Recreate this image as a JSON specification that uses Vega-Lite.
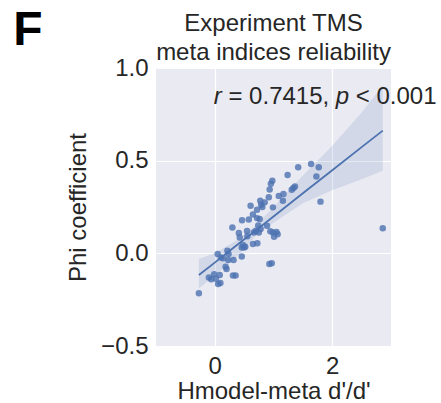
{
  "$schema": "https://vega.github.io/schema/vega-lite/v6.json",
  "autosize": "none",
  "padding": {"left": 156, "top": 68, "right": 50, "bottom": 57},
  "width": 235,
  "height": 278,
  "background": "white",
  "config": {
    "font": "Liberation Sans",
    "view": {"fill": "#EAEAF2", "stroke": null},
    "axis": {
      "domain": false, "ticks": false, "grid": true, "gridColor": "white", "gridWidth": 1.2,
      "labelFontSize": 24, "titleFontSize": 24, "labelColor": "#262626", "titleColor": "#262626",
      "titleFontWeight": "normal", "labelFont": "Liberation Sans", "titleFont": "Liberation Sans"
    }
  },
  "title": {
    "text": ["Experiment TMS", "meta indices reliability"],
    "fontSize": 24, "fontWeight": "normal", "color": "#262626", "lineHeight": 29,
    "anchor": "middle", "offset": 6, "dy": 64, "font": "Liberation Sans"
  },
  "datasets": {
    "pts": [
      {"x": -0.27, "y": -0.215}, {"x": -0.10, "y": -0.13}, {"x": -0.06, "y": -0.14}, {"x": -0.01, "y": -0.113},
      {"x": 0.02, "y": -0.137}, {"x": 0.057, "y": -0.165}, {"x": 0.096, "y": -0.16}, {"x": 0.085, "y": -0.117},
      {"x": 0.05, "y": -0.004}, {"x": 0.105, "y": -0.022}, {"x": 0.14, "y": -0.027}, {"x": 0.215, "y": 0.014},
      {"x": 0.235, "y": -0.004}, {"x": 0.23, "y": -0.036}, {"x": 0.20, "y": -0.085}, {"x": 0.185, "y": -0.072},
      {"x": 0.32, "y": -0.036}, {"x": 0.31, "y": -0.12}, {"x": 0.355, "y": -0.12},
      {"x": 0.30, "y": 0.14}, {"x": 0.41, "y": 0.11}, {"x": 0.425, "y": 0.085}, {"x": 0.465, "y": 0.178},
      {"x": 0.46, "y": 0.032}, {"x": 0.46, "y": -0.017}, {"x": 0.48, "y": 0.045}, {"x": 0.50, "y": 0.032},
      {"x": 0.52, "y": 0.035}, {"x": 0.55, "y": 0.12}, {"x": 0.555, "y": 0.092}, {"x": 0.58, "y": 0.182},
      {"x": 0.61, "y": 0.257}, {"x": 0.65, "y": 0.209}, {"x": 0.65, "y": 0.05}, {"x": 0.665, "y": 0.113},
      {"x": 0.70, "y": 0.12}, {"x": 0.725, "y": 0.054}, {"x": 0.72, "y": 0.19}, {"x": 0.72, "y": 0.235},
      {"x": 0.75, "y": 0.113}, {"x": 0.78, "y": 0.131}, {"x": 0.74, "y": 0.15}, {"x": 0.765, "y": 0.185},
      {"x": 0.775, "y": 0.284}, {"x": 0.79, "y": 0.262}, {"x": 0.81, "y": 0.25}, {"x": 0.85, "y": 0.275},
      {"x": 0.89, "y": 0.149}, {"x": 0.92, "y": 0.302}, {"x": 0.935, "y": 0.345}, {"x": 0.955, "y": 0.375},
      {"x": 0.98, "y": 0.392}, {"x": 0.99, "y": 0.248}, {"x": 0.946, "y": 0.119}, {"x": 0.99, "y": 0.113},
      {"x": 1.01, "y": 0.09}, {"x": 1.05, "y": 0.115}, {"x": 1.07, "y": 0.103}, {"x": 0.93, "y": -0.058},
      {"x": 0.97, "y": -0.054}, {"x": 1.09, "y": 0.31}, {"x": 1.16, "y": 0.284}, {"x": 1.17, "y": 0.32},
      {"x": 1.24, "y": 0.423}, {"x": 1.31, "y": 0.343}, {"x": 1.34, "y": 0.352}, {"x": 1.365, "y": 0.36},
      {"x": 1.42, "y": 0.464}, {"x": 1.64, "y": 0.482}, {"x": 1.77, "y": 0.464}, {"x": 1.73, "y": 0.414},
      {"x": 1.80, "y": 0.279}, {"x": 2.86, "y": 0.135}
    ],
    "fit": [
      {"x": -0.27, "fit": -0.117, "lo": -0.19, "hi": -0.03},
      {"x": 0.0, "fit": -0.05, "lo": -0.12, "hi": 0.0},
      {"x": 0.4, "fit": 0.05, "lo": -0.01, "hi": 0.075},
      {"x": 0.7, "fit": 0.124, "lo": 0.095, "hi": 0.15},
      {"x": 1.0, "fit": 0.199, "lo": 0.165, "hi": 0.25},
      {"x": 1.5, "fit": 0.324, "lo": 0.27, "hi": 0.42},
      {"x": 2.0, "fit": 0.448, "lo": 0.34, "hi": 0.58},
      {"x": 2.5, "fit": 0.573, "lo": 0.40, "hi": 0.76},
      {"x": 2.86, "fit": 0.662, "lo": 0.446, "hi": 0.905}
    ],
    "ital": [
      {"x": -0.017, "y": 0.805, "t": "r"},
      {"x": 2.06, "y": 0.805, "t": "p"}
    ],
    "norm": [
      {"x": 0.233, "y": 0.805, "t": "= 0.7415,"},
      {"x": 2.40, "y": 0.805, "t": "< 0.001"}
    ],
    "panel": [
      {"x": -3.43, "y": 1.126, "t": "F"}
    ]
  },
  "layer": [
    {
      "data": {"name": "fit"},
      "mark": {"type": "area", "color": "#4C72B0", "opacity": 0.15},
      "encoding": {
        "x": {"field": "x", "type": "quantitative", "scale": {"domain": [-1, 3], "nice": false},
              "axis": {"values": [0, 2], "title": "Hmodel-meta d'/d'", "labelPadding": 8, "titlePadding": 1, "format": "d"}},
        "y": {"field": "lo", "type": "quantitative", "scale": {"domain": [-0.5, 1.0], "nice": false},
              "axis": {"values": [-0.5, 0, 0.5, 1.0], "format": ".1f", "title": "Phi coefficient", "labelPadding": 8, "titlePadding": 10}},
        "y2": {"field": "hi"}
      }
    },
    {
      "data": {"name": "pts"},
      "mark": {"type": "circle", "color": "#4C72B0", "opacity": 0.8, "size": 42},
      "encoding": {
        "x": {"field": "x", "type": "quantitative"},
        "y": {"field": "y", "type": "quantitative"}
      }
    },
    {
      "data": {"name": "fit"},
      "mark": {"type": "line", "color": "#4C72B0", "strokeWidth": 1.8},
      "encoding": {
        "x": {"field": "x", "type": "quantitative"},
        "y": {"field": "fit", "type": "quantitative"}
      }
    },
    {
      "data": {"name": "ital"},
      "mark": {"type": "text", "align": "left", "baseline": "alphabetic", "fontSize": 24, "fontStyle": "italic", "color": "#262626", "font": "Liberation Sans"},
      "encoding": {
        "x": {"field": "x", "type": "quantitative"},
        "y": {"field": "y", "type": "quantitative"},
        "text": {"field": "t"}
      }
    },
    {
      "data": {"name": "norm"},
      "mark": {"type": "text", "align": "left", "baseline": "alphabetic", "fontSize": 24, "color": "#262626", "font": "Liberation Sans"},
      "encoding": {
        "x": {"field": "x", "type": "quantitative"},
        "y": {"field": "y", "type": "quantitative"},
        "text": {"field": "t"}
      }
    },
    {
      "data": {"name": "panel"},
      "mark": {"type": "text", "align": "left", "baseline": "alphabetic", "fontSize": 48, "fontWeight": "bold", "color": "black", "font": "Liberation Sans"},
      "encoding": {
        "x": {"field": "x", "type": "quantitative"},
        "y": {"field": "y", "type": "quantitative"},
        "text": {"field": "t"}
      }
    }
  ]
}
